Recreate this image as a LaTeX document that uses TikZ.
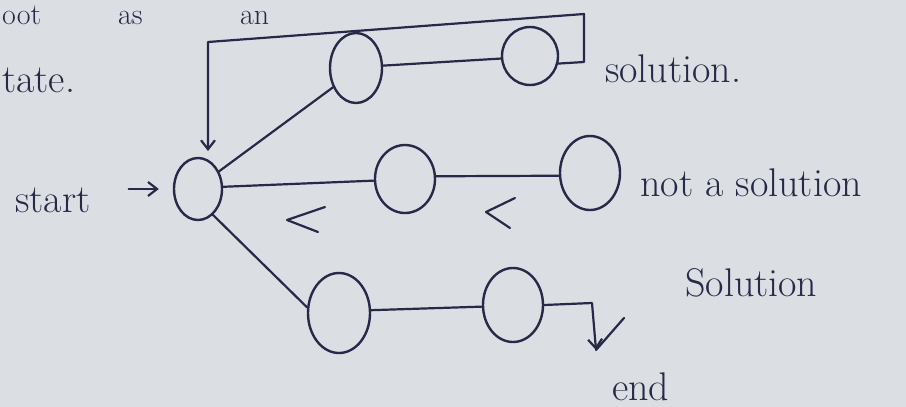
\documentclass[tikz,border=0pt]{standalone}
\usetikzlibrary{shapes.geometric,arrows.meta}
\definecolor{paper}{RGB}{219,222,226}
\definecolor{ink}{RGB}{38,42,72}
\begin{document}
\begin{tikzpicture}[x=1pt,y=-1pt,
  state/.style={draw=ink,ellipse,line width=2.4pt,inner sep=0pt},
  edge/.style={draw=ink,line width=2.2pt,line cap=round,line join=round},
  tip/.style={-{Straight Barb[length=9pt,width=14pt,line width=2.2pt]}},
  hand/.style={text=ink,font=\fontsize{40}{48}\selectfont,inner sep=0pt,anchor=base west},
  small/.style={text=ink,font=\fontsize{30}{34}\selectfont,inner sep=0pt,anchor=base west}]
\fill[paper] (0,0) rectangle (906,407);
\useasboundingbox (0,0) rectangle (906,407);
% partial text at top and left
\node[small] (top1) at (2,24) {oot};
\node[small] (top2) at (118,24) {as};
\node[small] (top3) at (240,24) {an};
\node[hand] (tate) at (2,92) {tate.};
% states
\node[state,minimum width=48pt,minimum height=62pt] (S) at (198,189) {};
\node[state,minimum width=52pt,minimum height=70pt] (A) at (356,68) {};
\node[state,minimum width=56pt,minimum height=58pt] (B) at (530,56) {};
\node[state,minimum width=60pt,minimum height=68pt] (C) at (405,179) {};
\node[state,minimum width=60pt,minimum height=74pt] (D) at (590,173) {};
\node[state,minimum width=62pt,minimum height=80pt] (E) at (339,313) {};
\node[state,minimum width=60pt,minimum height=74pt] (F) at (513,305) {};
% labels
\node[hand] (start) at (15,212) {start};
\node[hand] (sol1) at (605,82) {solution.};
\node[hand] (nots) at (640,196) {not a solution};
\node[hand] (sol2) at (685,296) {Solution};
\node[hand] (endl) at (612,400) {end};
% connectors
\draw[edge] (S.40) -- (A.220);
\draw[edge] (A.5) -- (B.185);
\draw[edge] (S.5) -- (C.183);
\draw[edge] (C.5) -- (D.185);
\draw[edge] (S.-60) -- (E.170);
\draw[edge] (E.5) -- (F.183);
% backtrack loop from B to S
\coordinate (loopTip) at (208,151);
\draw[edge,tip] (B.-15) -- (584,62) -- (584,14) -- (208,42) -- (loopTip);
% start arrow
\draw[edge,tip,shorten >=14pt,shorten <=38pt] (start.east |- S.west) -- (S.west);
% end arrow
\coordinate (endTip) at (596,350);
\draw[edge,tip] (F.0) -- (592,303) -- (endTip);
\draw[edge] (endTip) -- (624,318);
% backtrack chevrons
\draw[edge] (325,207) -- (287,220) -- (318,232);
\draw[edge] (515,198) -- (486,212) -- (510,228);
\end{tikzpicture}
\end{document}
